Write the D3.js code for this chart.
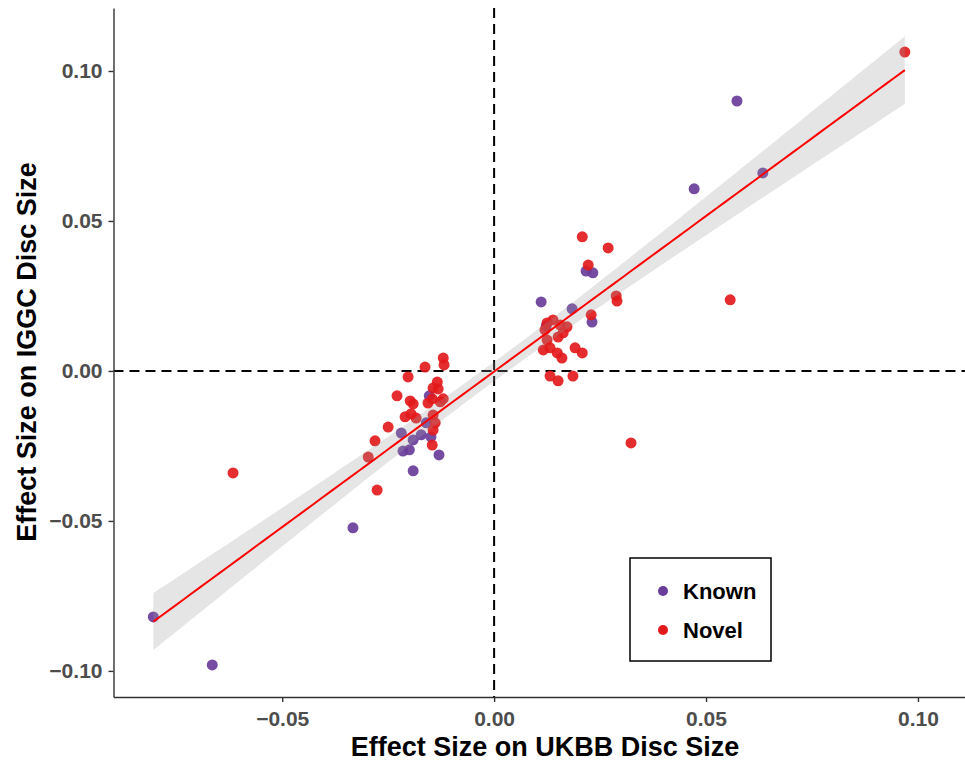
<!DOCTYPE html>
<html>
<head>
<meta charset="utf-8">
<script src="https://cdn.jsdelivr.net/npm/d3@7"></script>
<style>
  body { margin: 0; background: #fff; }
  svg { display: block; }
  text { font-family: "Liberation Sans", Arial, Helvetica, sans-serif; font-weight: bold; }
</style>
</head>
<body>
<svg id="chart" width="965" height="762"></svg>
<script>
// ---- data (UKBB effect, IGGC effect) ----
const knownX = [-0.0804, -0.0665, -0.0333, -0.0153, -0.0219, -0.0191, -0.0172, -0.0149, -0.0160, -0.0215, -0.0200, -0.0130, -0.0191,
                0.0111, 0.0217, 0.0233, 0.0184, 0.0231, 0.0123, 0.0472, 0.0573, 0.0634];
const knownY = [-0.0820, -0.0980, -0.0523, -0.0083, -0.0207, -0.0230, -0.0213, -0.0220, -0.0173, -0.0267, -0.0263, -0.0280, -0.0333,
                0.0230, 0.0333, 0.0327, 0.0207, 0.0163, 0.0150, 0.0607, 0.0900, 0.0660];
const novelX = [0.0969, -0.0616, -0.0276, -0.0297, -0.0281, -0.0250, -0.0229, -0.0203, -0.0163, -0.0120, -0.0118, -0.0198, -0.0191,
                -0.0210, -0.0196, -0.0184, -0.0134, -0.0144, -0.0132, -0.0156, -0.0146, -0.0127, -0.0120, -0.0144, -0.0139, -0.0144, -0.0146,
                0.0208, 0.0269, 0.0222, 0.0288, 0.0290, 0.0229, 0.0139, 0.0125, 0.0156, 0.0172, 0.0120, 0.0163, 0.0151, 0.0125,
                0.0116, 0.0132, 0.0149, 0.0160, 0.0191, 0.0208, 0.0132, 0.0151, 0.0186, 0.0323, 0.0557];
const novelY = [0.1063, -0.0340, -0.0397, -0.0287, -0.0233, -0.0187, -0.0083, -0.0020, 0.0013, 0.0043, 0.0020, -0.0100, -0.0110,
                -0.0153, -0.0143, -0.0157, -0.0037, -0.0057, -0.0060, -0.0107, -0.0093, -0.0103, -0.0093, -0.0147, -0.0173, -0.0197, -0.0247,
                0.0447, 0.0410, 0.0353, 0.0250, 0.0233, 0.0187, 0.0170, 0.0160, 0.0153, 0.0147, 0.0137, 0.0127, 0.0113, 0.0103,
                0.0070, 0.0077, 0.0060, 0.0043, 0.0077, 0.0060, -0.0017, -0.0033, -0.0017, -0.0240, 0.0237];
// regression line (slope, intercept)
const fitSlope = 1.037;
const fitIntercept = -0.0002;
const xTicks = [-0.05, 0.00, 0.05, 0.10];
const yTicks = [-0.10, -0.05, 0.00, 0.05, 0.10];
const groups = ["Known", "Novel"];
const groupColors = ["#6A3D9A", "#E31A1C"];

const svg = d3.select("#chart");
const x = d3.scaleLinear().domain([-0.0898, 0.1111]).range([113.5, 965]);
const y = d3.scaleLinear().domain([-0.1087, 0.1210]).range([697, 8]);
const fmt = d => (d < 0 ? "\u2212" : "") + Math.abs(d).toFixed(2);

const points = [];
knownX.forEach((v, i) => points.push({ x: v, y: knownY[i], g: 0 }));
novelX.forEach((v, i) => points.push({ x: v, y: novelY[i], g: 1 }));

// dashed reference lines
svg.append("line").attr("x1", x.range()[0]).attr("x2", x.range()[1]).attr("y1", y(0)).attr("y2", y(0))
  .attr("stroke", "#000").attr("stroke-width", 2).attr("stroke-dasharray", "10,6");
svg.append("line").attr("x1", x(0)).attr("x2", x(0)).attr("y1", y.range()[1]).attr("y2", y.range()[0])
  .attr("stroke", "#000").attr("stroke-width", 2).attr("stroke-dasharray", "10,6");

// points
svg.append("g").selectAll("circle").data(points).join("circle")
  .attr("cx", d => x(d.x)).attr("cy", d => y(d.y)).attr("r", 5.5)
  .attr("fill", d => groupColors[d.g]).attr("fill-opacity", 0.92);

// fitted line with 95% confidence band (standard lm standard-error formula)
const n = points.length;
const mx = d3.mean(points, d => d.x);
const sxx = d3.sum(points, d => (d.x - mx) ** 2);
const sse = d3.sum(points, d => (d.y - fitIntercept - fitSlope * d.x) ** 2);
const s = Math.sqrt(sse / (n - 2));
const tq = 1.993;
const [xmin, xmax] = d3.extent(points, d => d.x);
const grid = d3.range(0, 81).map(i => xmin + (xmax - xmin) * i / 80);
const band = grid.map(gx => {
  const fit = fitIntercept + fitSlope * gx;
  const se = s * Math.sqrt(1 / n + (gx - mx) ** 2 / sxx);
  return { x: gx, fit, lo: fit - tq * se, hi: fit + tq * se };
});
svg.append("path").datum(band)
  .attr("d", d3.area().x(d => x(d.x)).y0(d => y(d.lo)).y1(d => y(d.hi)))
  .attr("fill", "#999999").attr("fill-opacity", 0.26);
svg.append("path").datum(band)
  .attr("d", d3.line().x(d => x(d.x)).y(d => y(d.fit)))
  .attr("fill", "none").attr("stroke", "#FF0000").attr("stroke-width", 2);

// axes
const axisColor = "#333";
const gx = svg.append("g").attr("transform", `translate(0,697)`)
  .call(d3.axisBottom(x).tickValues(xTicks).tickFormat(fmt).tickSize(5).tickPadding(6).tickSizeOuter(0));
const gy = svg.append("g").attr("transform", `translate(113.5,0)`)
  .call(d3.axisLeft(y).tickValues(yTicks).tickFormat(fmt).tickSize(5).tickPadding(6).tickSizeOuter(0));
[gx, gy].forEach(g => {
  g.select(".domain").attr("stroke", axisColor).attr("stroke-width", 1.4);
  g.selectAll(".tick line").attr("stroke", axisColor).attr("stroke-width", 1.4);
  g.selectAll(".tick text").attr("fill", "#4D4D4D").style("font-size", "21px")
    .style("font-family", "'Liberation Sans', Arial, sans-serif").style("font-weight", "bold");
});
gx.selectAll(".tick text").attr("dy", "0.85em");

// axis titles
svg.append("text").attr("x", 545).attr("y", 756).attr("text-anchor", "middle")
  .style("font-size", "27px").attr("fill", "#000").text("Effect Size on UKBB Disc Size");
svg.append("text").attr("transform", "translate(36,352) rotate(-90)").attr("text-anchor", "middle")
  .style("font-size", "27px").attr("fill", "#000").text("Effect Size on IGGC Disc Size");

// legend
const lg = svg.append("g");
lg.append("rect").attr("x", 630).attr("y", 558).attr("width", 141).attr("height", 103)
  .attr("fill", "#fff").attr("stroke", "#000").attr("stroke-width", 1.5);
groups.forEach((gname, i) => {
  const cy = 591 + i * 39;
  lg.append("circle").attr("cx", 663).attr("cy", cy).attr("r", 5).attr("fill", groupColors[i]);
  lg.append("text").attr("x", 683).attr("y", cy).attr("dy", "0.36em")
    .style("font-size", "22px").attr("fill", "#000").text(gname);
});
</script>
</body>
</html>
